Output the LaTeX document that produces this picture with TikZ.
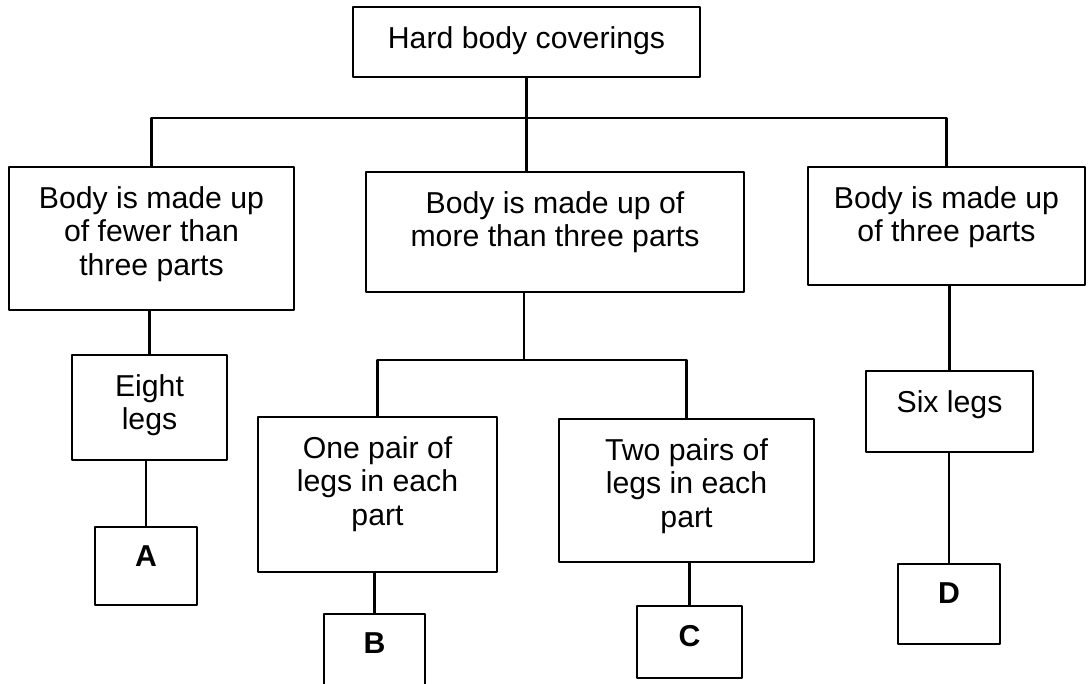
\documentclass[tikz,border=0pt]{standalone}
\usepackage{fontspec}
\setmainfont{Liberation Sans}
\begin{document}
\begin{tikzpicture}[x=0.02cm,y=-0.02cm,line cap=round,line join=round,
  box/.style={draw,line width=1.4pt,inner sep=0pt},
  lbl/.style={anchor=north,inner sep=0pt,yshift=-0.4cm,align=center,font=\fontsize{17.2}{19.2}\selectfont},
  letterlbl/.style={lbl,font=\fontsize{17.2}{19.2}\selectfont\bfseries},
  link/.style={line width=1.4pt}]
  \useasboundingbox (0,0) rectangle (1088,683);
  \clip (0,0) rectangle (1088,683);
  % first level
  \node[box,minimum width=6.94cm,minimum height=1.40cm] (hard) at (526.5,42) {};
  \node[lbl] (hardtxt) at (hard.north) {Hard body coverings};
  \node[box,minimum width=5.70cm,minimum height=2.86cm] (fewer) at (151.5,238.5) {};
  \node[lbl] (fewertxt) at (fewer.north) {Body is made up\\of fewer than\\three parts};
  \node[box,minimum width=7.56cm,minimum height=2.40cm] (more) at (555,232) {};
  \node[lbl] (moretxt) at (more.north) {Body is made up of\\more than three parts};
  \node[box,minimum width=5.54cm,minimum height=2.36cm] (three) at (946.5,226) {};
  \node[lbl] (threetxt) at (three.north) {Body is made up\\of three parts};
  % second level
  \node[box,minimum width=3.10cm,minimum height=2.10cm] (eight) at (149.5,407.5) {};
  \node[lbl] (eighttxt) at (eight.north) {Eight\\legs};
  \node[box,minimum width=4.78cm,minimum height=3.10cm] (onepair) at (377.5,494.5) {};
  \node[lbl] (onepairtxt) at (onepair.north) {One pair of\\legs in each\\part};
  \node[box,minimum width=5.10cm,minimum height=2.86cm] (twopairs) at (686.5,490.5) {};
  \node[lbl] (twopairstxt) at (twopairs.north) {Two pairs of\\legs in each\\part};
  \node[box,minimum width=3.34cm,minimum height=1.62cm] (six) at (949.5,411.5) {};
  \node[lbl] (sixtxt) at (six.north) {Six legs};
  % answer boxes
  \node[box,minimum width=2.04cm,minimum height=1.56cm] (boxA) at (146,566) {};
  \node[letterlbl] (txtA) at (boxA.north) {A};
  \node[box,minimum width=2.02cm,minimum height=2.00cm] (boxB) at (374.5,664) {};
  \node[letterlbl] (txtB) at (boxB.north) {B};
  \node[box,minimum width=2.10cm,minimum height=1.44cm] (boxC) at (689.5,642) {};
  \node[letterlbl] (txtC) at (boxC.north) {C};
  \node[box,minimum width=2.04cm,minimum height=1.60cm] (boxD) at (949,604) {};
  \node[letterlbl] (txtD) at (boxD.north) {D};
  % connectors
  \coordinate (split) at (526.5,118);
  \coordinate (midsplit) at (524,360);
  \draw[link] (hard.south) -- (split);
  \draw[link] (fewer.north) |- (split) -| (three.north);
  \draw[link] (split) -- (split |- more.north);
  \draw[link] (eight.north |- fewer.south) -- (eight.north);
  \draw[link] (boxA.north |- eight.south) -- (boxA.north);
  \draw[link] (more.south -| midsplit) -- (midsplit);
  \draw[link] (onepair.north) |- (midsplit) -| (twopairs.north);
  \draw[link] (boxB.north |- onepair.south) -- (boxB.north);
  \draw[link] (boxC.north |- twopairs.south) -- (boxC.north);
  \draw[link] (six.north |- three.south) -- (six.north);
  \draw[link] (boxD.north |- six.south) -- (boxD.north);
\end{tikzpicture}
\end{document}
